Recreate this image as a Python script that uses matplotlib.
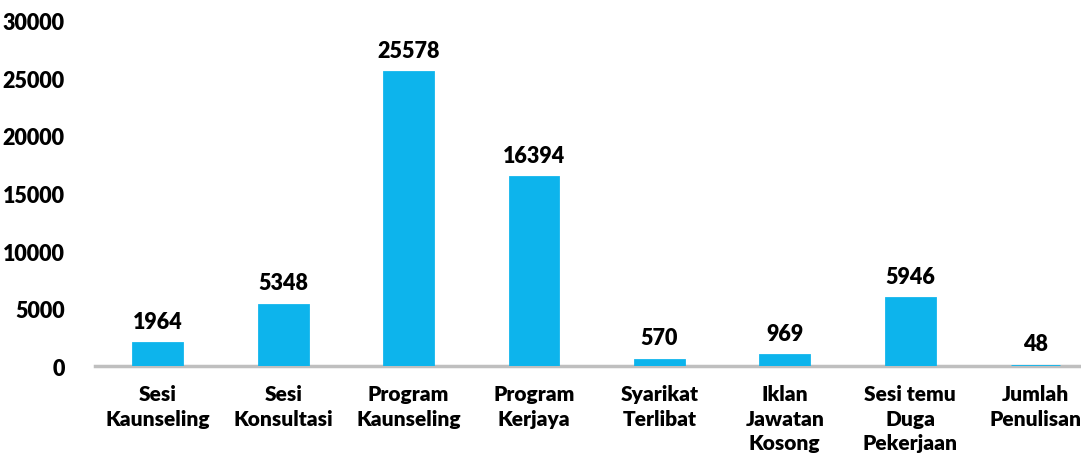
import matplotlib.pyplot as plt
import numpy as np

categories = ["Sesi\nKaunseling", "Sesi\nKonsultasi", "Program\nKaunseling", "Program\nKerjaya",
              "Syarikat\nTerlibat", "Iklan\nJawatan\nKosong", "Sesi temu\nDuga\nPekerjaan", "Jumlah\nPenulisan"]
values = [1964, 5348, 25578, 16394, 570, 969, 5946, 48]
yticks = [0, 5000, 10000, 15000, 20000, 25000, 30000]

plt.rcParams['font.family'] = ['Lato', 'DejaVu Sans']

fig = plt.figure(figsize=(10.81, 4.56), dpi=100)
ax = fig.add_axes([0.088, 0.195, 0.928, 0.757])

x = np.arange(len(categories))
bars = ax.bar(x, values, width=0.39, color='#0DB4EC', edgecolor='#0DB4EC',
              linewidth=2, zorder=3)

for xi, v in zip(x, values):
    ax.annotate(str(v), (xi, v), xytext=(0, 8), textcoords='offset points',
                ha='center', va='bottom', fontsize=15.5, fontweight='heavy')

ax.set_xlim(-0.5, len(categories) - 0.5)
ax.set_ylim(0, 30000)
ax.set_yticks(yticks)
ax.set_yticklabels([str(t) for t in yticks], fontsize=15.5, fontweight='heavy')
ax.set_xticks(x)
ax.set_xticklabels(categories, fontsize=15, fontweight='heavy', linespacing=1.35)

for s in ['top', 'right', 'left']:
    ax.spines[s].set_visible(False)
ax.spines['bottom'].set_color('#BFBFBF')
ax.spines['bottom'].set_linewidth(2.5)
ax.spines['bottom'].set_zorder(1)
ax.tick_params(axis='both', length=0)
ax.tick_params(axis='y', pad=22)
ax.tick_params(axis='x', pad=13)

fig.savefig('out.png', dpi=100)
